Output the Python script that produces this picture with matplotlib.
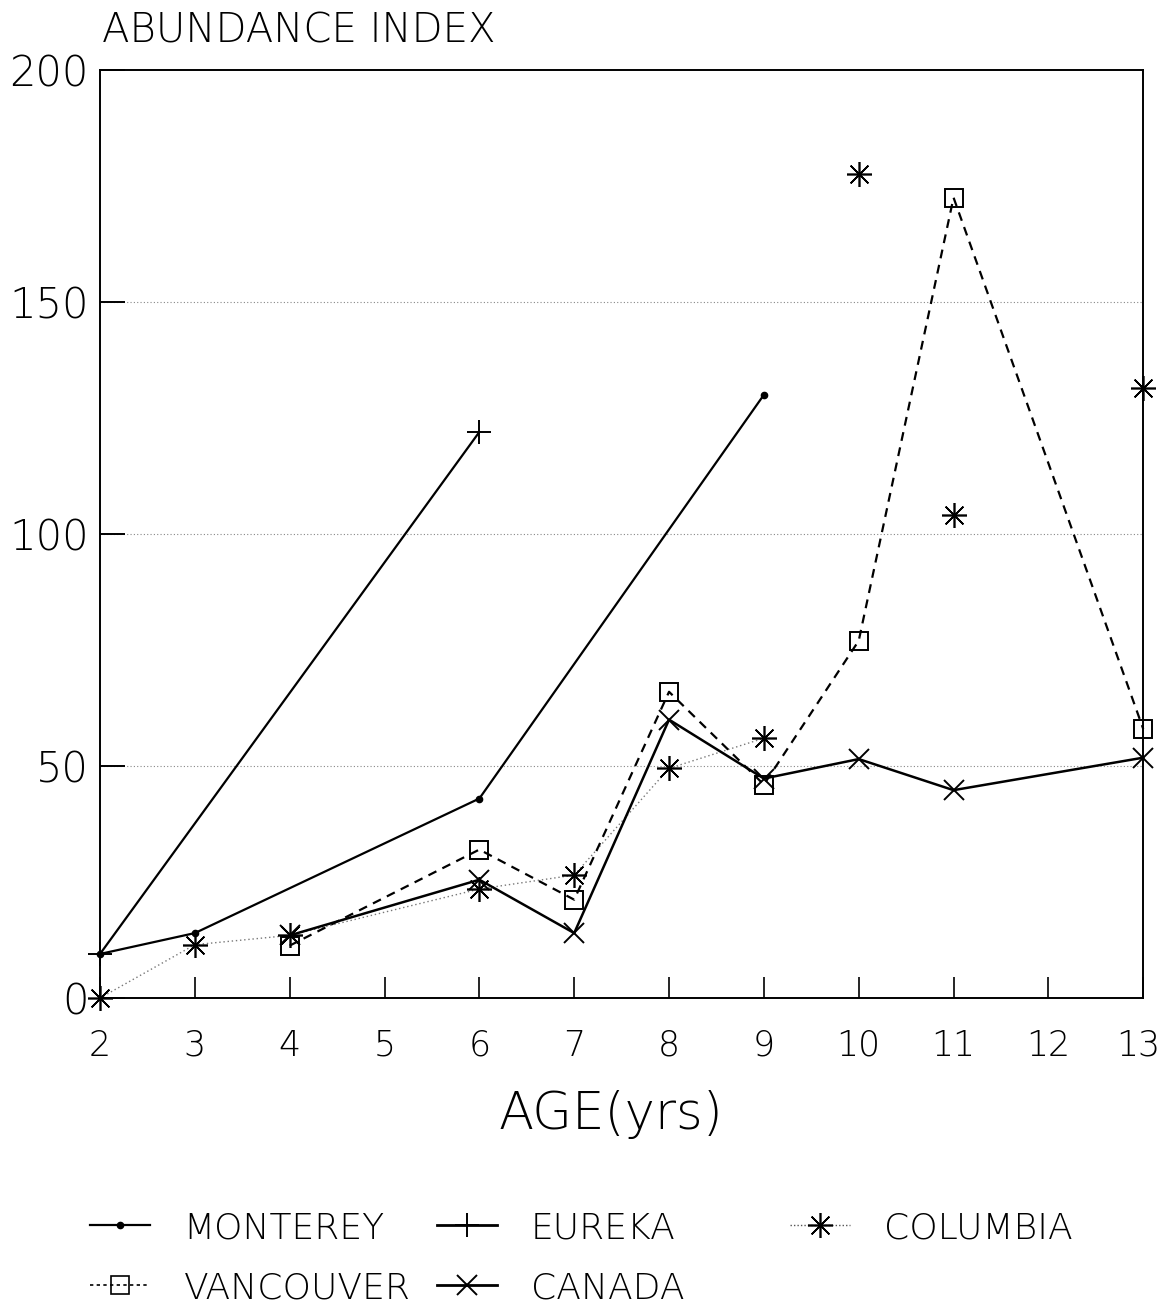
import matplotlib
matplotlib.use("Agg")
import matplotlib.pyplot as plt
import matplotlib.transforms as mtransforms
import numpy as np
from matplotlib.lines import Line2D

plt.rcParams['font.family'] = ['DejaVu Sans']

# ---- data ----
monterey_x = [2, 3, 6, 9]
monterey_y = [9.5, 14, 43, 130]

eureka_x = [2, 6]
eureka_y = [9.5, 122]

columbia_x = [2, 3, 4, 6, 7, 8, 9, 10, 11, 13]
columbia_y = [0, 11.5, 13.5, 23.5, 26.5, 49.5, 56, 177.5, 104, 131.5]

vancouver_x = [4, 6, 7, 8, 9, 10, 11, 13]
vancouver_y = [11.3, 32, 21.2, 66, 46, 77, 172.5, 58]

canada_x = [4, 6, 7, 8, 9, 10, 11, 13]
canada_y = [13.5, 25.5, 14, 60, 47.3, 51.5, 44.8, 51.8]

x_ticks = [2, 3, 4, 5, 6, 7, 8, 9, 10, 11, 12, 13]
y_ticks = [0, 50, 100, 150, 200]
grid_y = [50, 100, 150]

fig = plt.figure(figsize=(11.63, 13.06), dpi=100)
ax = fig.add_axes([0.086, 0.2358, 0.897, 0.7106])

# gridlines
for g in grid_y:
    ax.axhline(g, color='#888888', lw=0.8, ls=(0, (1, 2)), zorder=1)

STAR = (8, 2, 0)
ax.plot(monterey_x, monterey_y, color='black', lw=1.6, marker='o', ms=4.5, zorder=3,
        clip_on=False)
ax.plot(eureka_x, eureka_y, color='black', lw=1.6, marker='+', ms=17, mew=1.4, zorder=3,
        clip_on=False)
cx = np.array(columbia_x); cy = np.array(columbia_y)
line_mask = cx <= 9
ax.plot(cx[line_mask], cy[line_mask], color='#777777', lw=1.0, ls=(0, (1, 2)), zorder=2)
ax.plot(cx, cy, ls='none', color='black', marker=STAR, ms=18, mew=1.2, zorder=4,
        clip_on=False)
ax.plot(vancouver_x, vancouver_y, color='black', lw=1.6, ls=(0, (4, 3)), marker='s', ms=13.5,
        mfc='none', mew=1.4, zorder=3, clip_on=False)
ax.plot(canada_x, canada_y, color='black', lw=1.8, marker='x', ms=14, mew=1.4, zorder=3,
        clip_on=False)

ax.set_xlim(2, 13)
ax.set_ylim(0, 200)
ax.set_xticks(x_ticks)
ax.set_xticklabels([str(v) for v in x_ticks], fontsize=25, fontweight='light')
ax.set_yticks(y_ticks)
ax.set_yticklabels([str(v) for v in y_ticks], fontsize=30, fontweight='light')
ax.tick_params(axis='x', direction='in', length=15, width=1.2, pad=22)
ax.tick_params(axis='y', direction='in', length=18, width=1.4, pad=8)
for s in ax.spines.values():
    s.set_linewidth(1.4)

# nudge the last x tick label so it stays inside the canvas
last = ax.get_xticklabels()[-1]
last.set_transform(last.get_transform() +
                   mtransforms.ScaledTranslation(-5 / 100, 0, fig.dpi_scale_trans))

ax.set_xlabel('AGE(yrs)', fontsize=37, fontweight='light')
ax.xaxis.set_label_coords(0.49, -0.126)
ax.xaxis.label.set_va('center')
fig.text(0.088, 0.976, 'ABUNDANCE INDEX', fontsize=29, fontweight='light', va='center', ha='left')

# legend (three columns placed individually)
h_mon = Line2D([], [], color='black', lw=1.6, marker='o', ms=4.5)
h_eur = Line2D([], [], color='black', lw=2.0, marker='+', ms=17, mew=1.4)
h_col = Line2D([], [], color='#555555', lw=1.0, ls=(0, (1, 1.5)), marker=STAR, ms=18,
               mew=1.2, mec='black')
h_van = Line2D([], [], color='black', lw=1.2, ls=(0, (2, 2)), marker='s', ms=13.5, mfc='none', mew=1.2)
h_can = Line2D([], [], color='black', lw=2.0, marker='x', ms=14, mew=1.4)

legend_cols = [
    ([h_mon, h_van], ['MONTEREY', 'VANCOUVER'], 90),
    ([h_eur, h_can], ['EUREKA', 'CANADA'], 437),
    ([h_col], ['COLUMBIA'], 790),
]
for handles, labels, xpix in legend_cols:
    fig.legend(handles, labels, loc='upper left',
               bbox_to_anchor=(xpix / 1163, 0.0727),
               frameon=False, prop={'size': 26, 'weight': 'light'},
               handlelength=1.67, handletextpad=0.92, labelspacing=0.72,
               borderpad=0, borderaxespad=0)

fig.savefig('out.png', dpi=100)
